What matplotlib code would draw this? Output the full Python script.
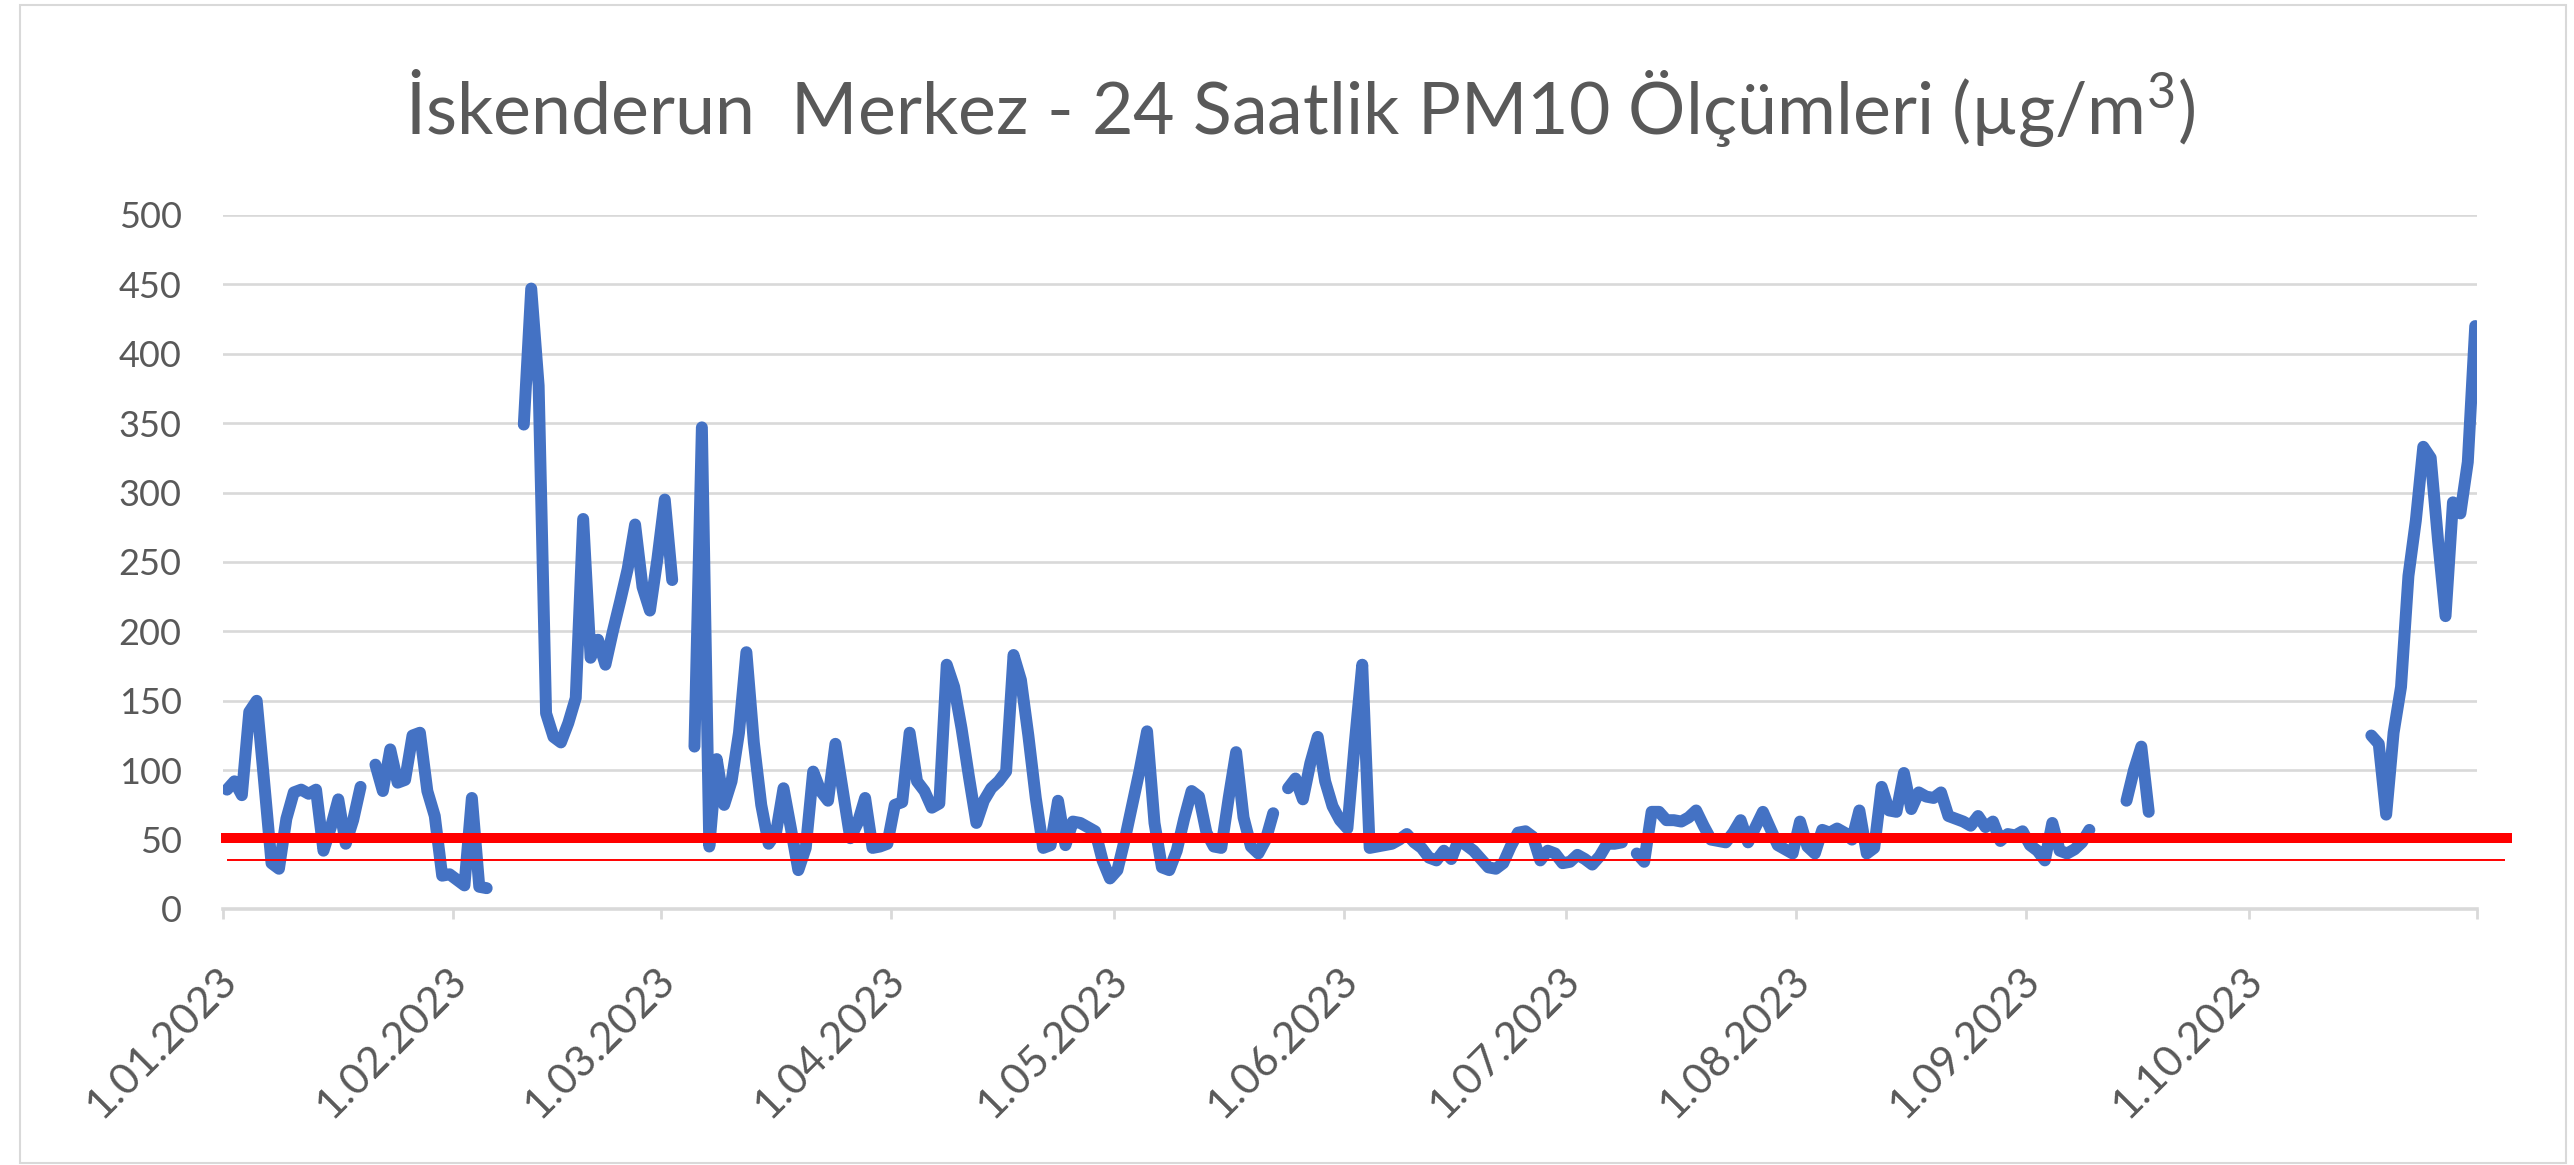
import numpy as np
import pandas as pd
import matplotlib
matplotlib.use("Agg")
import matplotlib.pyplot as plt
from matplotlib.transforms import ScaledTranslation, blended_transform_factory
from matplotlib.patches import Rectangle
from matplotlib.lines import Line2D

# ---------------- data (daily PM10, µg/m3; None = no measurement) ----------------
N = None
jan = [86, 92, 82, 142, 150, 92, 33, 29, 65, 84, 86, 83, 86, 42, 59, 79, 47, 64, 88, N,
       104, 85, 115, 91, 93, 125, 127, 85, 67, 24, 25]
feb = [21, 17, 80, 16, 15, N, N, N, N, 349, 447, 377, 141, 124, 120, 134, 152, 281,
       181, 194, 176, 200, 222, 245, 277, 232, 215, 252]
mar = [295, 237, N, N, 117, 347, 45, 108, 75, 92, 127, 185, 120, 75, 47, 55, 87, 58,
       28, 44, 99, 85, 78, 119, 85, 51, 62, 80, 44, 45, 47]
apr = [75, 77, 127, 92, 85, 73, 76, 176, 160, 130, 95, 62, 78, 87, 92, 99, 183, 165,
       125, 80, 44, 46, 78, 46, 63, 62, 59, 56, 35, 22]
may = [28, 50, 75, 100, 128, 62, 30, 28, 42, 65, 85, 81, 55, 45, 44, 80, 113, 66, 45,
       40, 50, 69, N, 87, 94, 79, 105, 124, 92, 74, 64]
jun = [58, 120, 176, 44, 45, 46, 47, 50, 54, 48, 44, 37, 35, 42, 36, 50, 46, 42, 36,
       30, 29, 33, 45, 55, 56, 52, 35, 42, 40, 33]
jul = [34, 39, 36, 32, 38, 47, 47, 48, N, 40, 34, 70, 70, 64, 64, 63, 66, 71, 60, 50,
       49, 48, 55, 64, 48, 59, 70, 58, 46, 43, 40]
aug = [63, 45, 40, 57, 55, 58, 55, 50, 71, 40, 44, 88, 71, 70, 98, 72, 84, 81, 80, 84,
       67, 65, 63, 60, 67, 59, 63, 49, 54, 53, 56]
sep = [46, 42, 35, 62, 42, 40, 43, 48, 57, N, N, N, N, 78, 100, 117, 70,
       N, N, N, N, N, N, N, N, N, N, N, N, N]
oct_ = [N, N, N, N, N, N, N, N, N, N, N, N, N, N, N, N,
        125, 119, 68, 127, 160, 240, 280, 333, 325, 265, 211, 293, 285, 322, 420]

limit_thick = 51      # thick red reference line
limit_thin = 35       # thin red reference line

y_ticks = [0, 50, 100, 150, 200, 250, 300, 350, 400, 450, 500]
x_tick_labels = ["1.01.2023", "1.02.2023", "1.03.2023", "1.04.2023", "1.05.2023",
                 "1.06.2023", "1.07.2023", "1.08.2023", "1.09.2023", "1.10.2023"]
title = "İskenderun  Merkez - 24 Saatlik PM10 Ölçümleri (µg/m$^{3}$)"

# ---------------- build ----------------
values = np.array(jan + feb + mar + apr + may + jun + jul + aug + sep + oct_, dtype=float)
start = pd.Timestamp("2023-01-01")
dates = pd.date_range(start, periods=len(values), freq="D") + pd.Timedelta(hours=12)
tick_dates = pd.to_datetime(x_tick_labels, format="%d.%m.%Y")
x_end = start + pd.Timedelta(days=303.7)

TXT = "#595959"
GRID = "#D9D9D9"
W, H = 2574, 1165
plt.rcParams["font.family"] = ["Lato", "DejaVu Sans"]
plt.rcParams["mathtext.fontset"] = "custom"
plt.rcParams["mathtext.rm"] = "Lato"
plt.rcParams["mathtext.it"] = "Lato"
plt.rcParams["mathtext.bf"] = "Lato"

fig = plt.figure(figsize=(W / 100, H / 100), dpi=100)
fig.patch.set_facecolor("white")
ax = fig.add_axes([223.3 / W, 1 - 909 / H, (2476.7 - 223.3) / W, (909 - 215) / H])

ax.plot(dates, values, color="#4472C4", lw=8.6, solid_capstyle="round",
        solid_joinstyle="round", zorder=3)

ax.set_ylim(0, 500)
ax.set_xlim(start, x_end)
ax.set_yticks(y_ticks)
ax.set_yticklabels([str(v) for v in y_ticks])
ax.grid(axis="y", color=GRID, lw=1.9)
ax.set_axisbelow(True)
for s in ["left", "right", "top"]:
    ax.spines[s].set_visible(False)
ax.spines["bottom"].set_color(GRID)
ax.spines["bottom"].set_linewidth(2.6)
ax.spines["bottom"].set_zorder(2)

ax.tick_params(axis="y", length=0, pad=30, labelsize=26, labelcolor=TXT)
ax.set_xticks(tick_dates)
ax.set_xticks([x_end], minor=True)
ax.set_xticklabels(x_tick_labels, rotation=45, ha="right", va="top",
                   rotation_mode="anchor", fontsize=31, color=TXT)
ax.tick_params(axis="x", which="both", length=7, width=2, color=GRID, pad=30)
off = ScaledTranslation(-6 / 100, 0, fig.dpi_scale_trans)
for lab in ax.get_xticklabels():
    lab.set_transform(lab.get_transform() + off)

# red reference lines drawn over the chart (extend slightly past the axis)
trans = blended_transform_factory(ax.transAxes, ax.transData)
ax.add_line(Line2D([-0.001, 1.0157], [limit_thick, limit_thick], transform=trans,
                   color="#FF0000", lw=7.2, clip_on=False, zorder=5,
                   solid_capstyle="butt"))
ax.add_line(Line2D([0.0015, 1.0126], [limit_thin, limit_thin], transform=trans,
                   color="#FF0000", lw=1.4, clip_on=False, zorder=5,
                   solid_capstyle="butt"))

# chart border
fig.patches.append(Rectangle((20 / W, 2 / H), (2566 - 20) / W, (1160 - 2) / H,
                             transform=fig.transFigure, fill=False,
                             edgecolor=GRID, lw=1.5))

# title, fitted to the reference width
t = fig.text(0.505, 0.907, title, ha="center", va="center", fontsize=48,
             color=TXT, fontweight="normal")
fig.canvas.draw()
w = t.get_window_extent().width
t.set_fontsize(48 * 1790 / w)

fig.savefig("out.png", dpi=100, facecolor="white")
